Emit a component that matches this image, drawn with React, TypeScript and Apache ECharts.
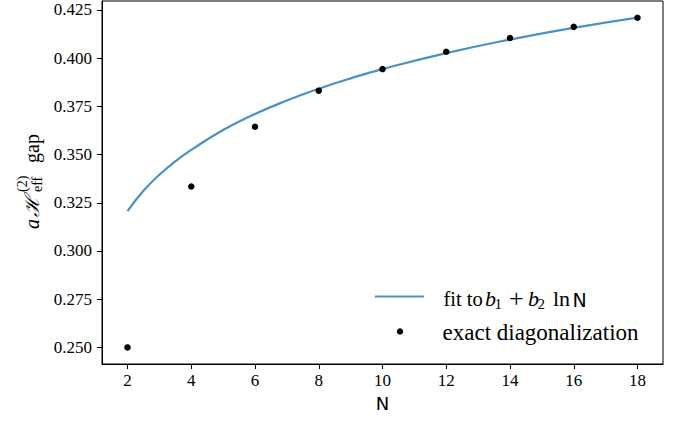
import React, { useEffect, useRef } from "react";
import * as echarts from "echarts";

// Exact diagonalization data
const N_VALUES = [2, 4, 6, 8, 10, 12, 14, 16, 18];
const ED_GAP = [0.25, 0.3334, 0.3644, 0.3831, 0.3943, 0.4033, 0.4104, 0.4162, 0.4209];

// Fit curve (b1 + b2 lnN)
const FIT_N = [2, 2.5, 3, 3.5, 4, 5, 6, 7, 8, 9, 10, 12, 14, 16, 18];
const FIT_GAP = [
  0.3206, 0.3312, 0.3395, 0.3465, 0.3524, 0.3627, 0.371, 0.378, 0.3841, 0.3895,
  0.3943, 0.4026, 0.4096, 0.4157, 0.421,
];

const X_TICKS = [2, 4, 6, 8, 10, 12, 14, 16, 18];
const Y_TICKS = [0.25, 0.275, 0.3, 0.325, 0.35, 0.375, 0.4, 0.425];

const SERIF = "'Liberation Serif', 'DejaVu Serif', serif";
const SANS = "'DejaVu Sans', sans-serif";
const BLUE = "#4a92c4";

export default function App() {
  const ref = useRef<HTMLDivElement>(null);
  useEffect(() => {
    if (!ref.current) return;
    const chart = echarts.init(ref.current, undefined, { renderer: "svg" });
    const fitData = FIT_N.map((n, i) => [n, FIT_GAP[i]]);
    const edData = N_VALUES.map((n, i) => [n, ED_GAP[i]]);
    const L1 = 298.8;
    const L2 = 332;
    const option: any = {
      animation: false,
      backgroundColor: "#fff",
      grid: {
        left: 102,
        right: 19,
        top: 1,
        bottom: 60,
        show: true,
        borderColor: "#000",
        borderWidth: 1,
        backgroundColor: "transparent",
      },
      xAxis: {
        type: "value",
        min: 1.2,
        max: 18.8,
        name: "N",
        nameLocation: "middle",
        nameGap: 30,
        nameTextStyle: { fontFamily: SANS, fontSize: 18, color: "#000" },
        axisLine: { show: true, lineStyle: { color: "#000", width: 1 } },
        axisTick: { show: true, inside: false, length: 5, customValues: X_TICKS, lineStyle: { color: "#000" } },
        axisLabel: {
          customValues: X_TICKS,
          formatter: (v: number) => String(v),
          fontFamily: SERIF,
          fontSize: 17,
          color: "#000",
          margin: 8,
        },
        splitLine: { show: false },
      },
      yAxis: {
        type: "value",
        min: 0.2414,
        max: 0.4296,
        axisLine: { show: true, lineStyle: { color: "#000", width: 1 } },
        axisTick: { show: true, inside: false, length: 5, customValues: Y_TICKS, lineStyle: { color: "#000" } },
        axisLabel: {
          customValues: Y_TICKS,
          formatter: (v: number) => v.toFixed(3),
          fontFamily: SERIF,
          fontSize: 17,
          color: "#000",
          margin: 10,
        },
        splitLine: { show: false },
      },
      series: [
        {
          name: "fit",
          type: "line",
          data: fitData,
          smooth: true,
          showSymbol: false,
          lineStyle: { color: BLUE, width: 2.2 },
          z: 2,
        },
        {
          name: "exact diagonalization",
          type: "scatter",
          data: edData,
          symbol: "circle",
          symbolSize: 6.5,
          itemStyle: { color: "#000", opacity: 1 },
          z: 3,
        },
      ],
      graphic: [
        // legend
        { type: "line", shape: { x1: 375, y1: 296.5, x2: 424, y2: 296.5 }, style: { stroke: BLUE, lineWidth: 2.2 } },
        { type: "circle", shape: { cx: 400, cy: 331.5, r: 3.2 }, style: { fill: "#000" } },
        { type: "text", x: 443.5, y: L1, style: { text: "fit to", fontFamily: SERIF, fontSize: 20.5, fill: "#000", verticalAlign: "middle" } },
        { type: "text", x: 485, y: L1, style: { text: "b", fontFamily: SERIF, fontStyle: "italic", fontSize: 22, fill: "#000", verticalAlign: "middle" } },
        { type: "text", x: 494.5, y: 304, style: { text: "1", fontFamily: SERIF, fontSize: 15, fill: "#000", verticalAlign: "middle" } },
        { type: "text", x: 509, y: L1 - 0.5, style: { text: "+", fontFamily: SERIF, fontSize: 26, fill: "#000", verticalAlign: "middle" } },
        { type: "text", x: 528, y: L1, style: { text: "b", fontFamily: SERIF, fontStyle: "italic", fontSize: 22, fill: "#000", verticalAlign: "middle" } },
        { type: "text", x: 537.5, y: 304, style: { text: "2", fontFamily: SERIF, fontSize: 15, fill: "#000", verticalAlign: "middle" } },
        { type: "text", x: 553, y: L1, style: { text: "ln", fontFamily: SERIF, fontSize: 22, fill: "#000", verticalAlign: "middle" } },
        { type: "text", x: 572.5, y: L1 + 1, style: { text: "N", fontFamily: SANS, fontSize: 19, fill: "#000", verticalAlign: "middle" } },
        { type: "text", x: 442.5, y: L2, style: { text: "exact diagonalization", fontFamily: SERIF, fontSize: 23, fill: "#000", verticalAlign: "middle" } },
        // y-axis label
        {
          type: "group",
          x: 39,
          y: 229,
          rotation: Math.PI / 2,
          children: [
            { type: "text", x: 0, y: -6.8, style: { text: "a", fontFamily: SERIF, fontStyle: "italic", fontSize: 20, fill: "#000", verticalAlign: "middle" } },
            { type: "text", x: 12, y: -6.8, style: { text: "ℋ", fontFamily: "'DejaVu Serif', serif", fontStyle: "italic", fontSize: 20, fill: "#000", verticalAlign: "middle" } },
            { type: "text", x: 37, y: -1.3, style: { text: "eff", fontFamily: SERIF, fontSize: 14, fill: "#000", verticalAlign: "middle" } },
            { type: "text", x: 37, y: -17, style: { text: "(2)", fontFamily: SERIF, fontSize: 14, fill: "#000", verticalAlign: "middle" } },
            { type: "text", x: 66, y: -6.8, style: { text: "gap", fontFamily: SERIF, fontSize: 20, fill: "#000", verticalAlign: "middle" } },
          ],
        },
      ],
    };
    chart.setOption(option);
    return () => chart.dispose();
  }, []);
  return (
    <div
      ref={ref}
      style={{ position: "fixed", left: 0, top: 0, width: 682, height: 424, background: "#fff" }}
    />
  );
}
